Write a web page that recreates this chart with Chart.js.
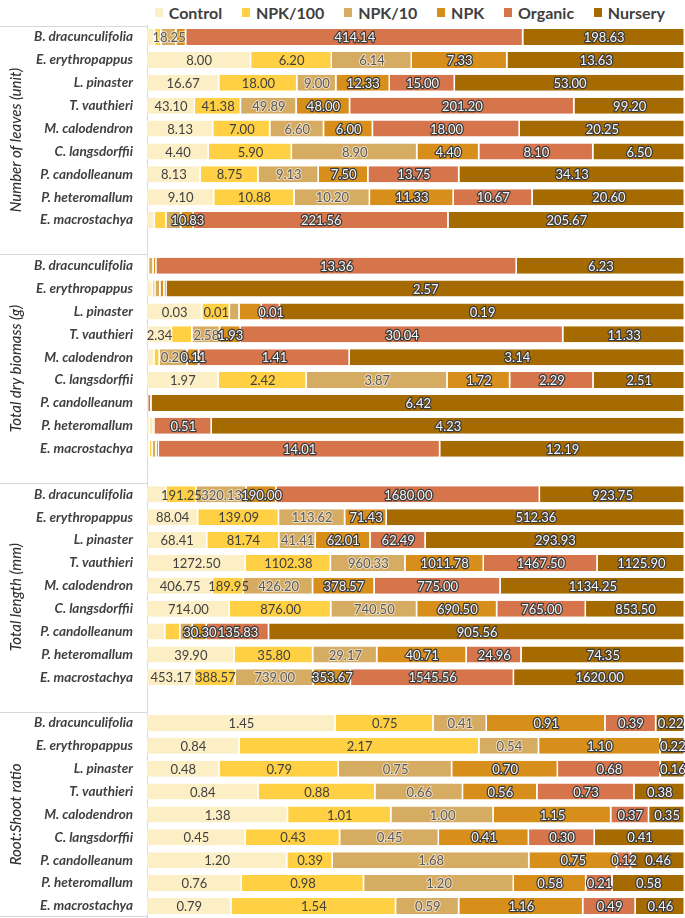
<!DOCTYPE html>
<html>
<head>
<meta charset="utf-8">
<script src="https://cdn.jsdelivr.net/npm/chart.js@4/dist/chart.umd.min.js"></script>
<style>
  body { margin: 0; background: #fff; overflow: hidden; }
  #legend { position: absolute; left: 0; top: 0; width: 685px; height: 25px; display: flex; align-items: center;
            padding-left: 155px; box-sizing: border-box; font: bold 16px Lato, "Open Sans", sans-serif; color: #404040; }
  #legend span.box { display: inline-block; width: 9px; height: 9px; margin-right: 6px; }
  #legend span.txt { margin-right: 20px; }
  #wrap { position: absolute; left: 0; top: 25px; width: 685px; height: 893px; }
</style>
</head>
<body>
<div id="legend"></div>
<div id="wrap"><canvas id="RootChart"></canvas></div>
<script>
// species (same order in every panel)
var species = ['B. dracunculifolia', 'E. erythropappus', 'L. pinaster', 'T. vauthieri', 'M. calodendron',
  'C. langsdorffii', 'P. candolleanum', 'P. heteromallum', 'E. macrostachya'];
var seriesNames = ['Control', 'NPK/100', 'NPK/10', 'NPK', 'Organic', 'Nursery'];
var seriesColors = ['#FCEFC6', '#FFD043', '#D6AC62', '#D78E1B', '#D6744B', '#A56A00'];
var groupTitles = ['Number of leaves (unit)', 'Total dry biomass (g)', 'Total length (mm)', 'Root:Shoot ratio'];

// rows = species, columns = Control, NPK/100, NPK/10, NPK, Organic, Nursery
var leaves = [
  [10, 8, 18.25, 12, 414.14, 198.63],
  [8.00, 6.20, 6.14, 7.33, null, 13.63],
  [16.67, 18.00, 9.00, 12.33, 15.00, 53.00],
  [43.10, 41.38, 49.89, 48.00, 201.20, 99.20],
  [8.13, 7.00, 6.60, 6.00, 18.00, 20.25],
  [4.40, 5.90, 8.90, 4.40, 8.10, 6.50],
  [8.13, 8.75, 9.13, 7.50, 13.75, 34.13],
  [9.10, 10.88, 10.20, 11.33, 10.67, 20.60],
  [7, 10, 13, 10.83, 221.56, 205.67]
];
var biomass = [
  [0.06, 0.02, 0.17, 0.10, 13.36, 6.23],
  [0.03, 0.012, 0.025, 0.02, 0.01, 2.57],
  [0.026, 0.013, 0.0045, 0.0105, 0.0085, 0.19],
  [2.34, 1.90, 2.58, 1.93, 30.04, 11.33],
  [0.07, 0.05, 0.26, 0.11, 1.41, 3.14],
  [1.97, 2.42, 3.87, 1.72, 2.29, 2.51],
  [0.015, null, null, null, 0.04, 6.42],
  [0.03, 0.02, 0.01, 0.01, 0.51, 4.23],
  [0.15, 0.13, 0.20, 0.12, 14.01, 12.19]
];
var totalLength = [
  [124, 191.25, 320.13, 190.00, 1680.00, 923.75],
  [88.04, 139.09, 113.62, 71.43, null, 512.36],
  [68.41, 81.74, 41.41, 62.01, 62.49, 293.93],
  [1272.50, 1102.38, 960.33, 1011.78, 1467.50, 1125.90],
  [406.75, 189.95, 426.20, 378.57, 775.00, 1134.25],
  [714.00, 876.00, 740.50, 690.50, 765.00, 853.50],
  [40, 33, 27, 30.30, 135.83, 905.56],
  [39.90, 35.80, 29.17, 40.71, 24.96, 74.35],
  [453.17, 388.57, 739.00, 353.67, 1545.56, 1620.00]
];
var rootShoot = [
  [1.45, 0.75, 0.41, 0.91, 0.39, 0.22],
  [0.84, 2.17, 0.54, 1.10, null, 0.22],
  [0.48, 0.79, 0.75, 0.70, 0.68, 0.16],
  [0.84, 0.88, 0.66, 0.56, 0.73, 0.38],
  [1.38, 1.01, 1.00, 1.15, 0.37, 0.35],
  [0.45, 0.43, 0.45, 0.41, 0.30, 0.41],
  [1.20, 0.39, 1.68, 0.75, 0.12, 0.46],
  [0.76, 0.98, 1.20, 0.58, 0.21, 0.58],
  [0.79, 1.54, 0.59, 1.16, 0.49, 0.46]
];
// labels not shown in the original ("row-series")
var leavesHidden = ['0-0', '0-1', '0-3', '8-0', '8-1', '8-2'];
var biomassHidden = ['0-0', '0-1', '0-2', '0-3', '1-0', '1-1', '1-2', '1-3', '1-4', '2-2', '2-3', '3-1',
  '4-0', '4-1', '6-0', '6-4', '7-0', '7-1', '7-2', '7-3', '8-0', '8-1', '8-2', '8-3'];
var lengthHidden = ['0-0', '6-0', '6-1', '6-2'];
var rootHidden = [];

var panels = [leaves, biomass, totalLength, rootShoot];
var hiddenLists = [leavesHidden, biomassHidden, lengthHidden, rootHidden];

// one category axis, blank row between the groups
var labels = [];
panels.forEach(function (p, g) {
  if (g > 0) labels.push('');
  labels.push.apply(labels, species);
});

var datasets = seriesNames.map(function (name, s) {
  var data = [], raw = [], hide = [];
  panels.forEach(function (p, g) {
    if (g > 0) { data.push(null); raw.push(null); hide.push(true); }
    p.forEach(function (row, r) {
      var tot = row.reduce(function (a, b) { return a + (b || 0); }, 0);
      var v = row[s];
      data.push(v == null ? null : v / tot * 100);
      raw.push(v);
      hide.push(hiddenLists[g].indexOf(r + '-' + s) >= 0);
    });
  });
  return {
    label: name,
    data: data,
    raw: raw,
    hide: hide,
    backgroundColor: seriesColors[s],
    borderColor: '#ffffff',
    borderWidth: {left: 0, right: 1.5, top: 0, bottom: 0},
    borderSkipped: false,
    barPercentage: 0.7,
    categoryPercentage: 1
  };
});

var barLabels = {
  id: 'barLabels',
  afterDatasetsDraw: function (chart) {
    var ctx = chart.ctx;
    ctx.save();
    ctx.font = '13px Lato, "Open Sans", sans-serif';
    ctx.textAlign = 'center';
    ctx.textBaseline = 'middle';
    ctx.lineJoin = 'round';
    chart.data.datasets.forEach(function (ds, i) {
      chart.getDatasetMeta(i).data.forEach(function (bar, j) {
        var v = ds.raw[j];
        if (v == null || ds.hide[j]) return;
        var t = v.toFixed(2), x = (bar.x + bar.base) / 2, y = bar.y + 1;
        if (i >= 3) {
          ctx.lineWidth = 2.5; ctx.strokeStyle = '#3b3b3b'; ctx.strokeText(t, x, y);
          ctx.fillStyle = '#f5f5f5';
        } else if (i == 2) {
          ctx.lineWidth = 2; ctx.strokeStyle = 'rgba(255,255,255,0.6)'; ctx.strokeText(t, x, y);
          ctx.fillStyle = '#595959';
        } else {
          ctx.fillStyle = '#404040';
        }
        ctx.fillText(t, x, y);
      });
    });
    ctx.restore();
  }
};

var groupBoxes = {
  id: 'groupBoxes',
  afterDraw: function (chart) {
    var ctx = chart.ctx, ys = chart.scales.y, left = chart.chartArea.left;
    var half = (ys.getPixelForValue(1) - ys.getPixelForValue(0)) / 2;
    ctx.save();
    ctx.strokeStyle = '#D9D9D9';
    ctx.lineWidth = 1;
    groupTitles.forEach(function (title, g) {
      var top = ys.getPixelForValue(g * 10) - half;
      var bottom = ys.getPixelForValue(Math.min(g * 10 + 9, labels.length - 1)) + half;
      ctx.beginPath();
      ctx.moveTo(0, Math.round(top) + 0.5); ctx.lineTo(left, Math.round(top) + 0.5);
      if (g == groupTitles.length - 1) { ctx.moveTo(0, Math.round(bottom) - 0.5); ctx.lineTo(left, Math.round(bottom) - 0.5); }
      ctx.stroke();
      ctx.save();
      ctx.translate(16, (top + bottom) / 2);
      ctx.rotate(-Math.PI / 2);
      ctx.font = 'italic 500 15px Lato, "Open Sans", sans-serif';
      ctx.fillStyle = '#303030';
      ctx.textAlign = 'center';
      ctx.textBaseline = 'middle';
      ctx.fillText(title, 0, 0);
      ctx.restore();
    });
    ctx.restore();
  }
};

var ctx = document.getElementById('RootChart').getContext('2d');
var myChart = new Chart(ctx, {
  type: 'bar',
  data: { labels: labels, datasets: datasets },
  options: {
    indexAxis: 'y',
    responsive: true,
    maintainAspectRatio: false,
    animation: false,
    layout: { padding: 0 },
    plugins: { legend: { display: false }, tooltip: { enabled: false } },
    scales: {
      x: { stacked: true, min: 0, max: 100, display: false },
      y: {
        stacked: true,
        // tick marks are hidden, their length only moves the labels off the axis line
        grid: { display: false, drawTicks: true, tickLength: 14 },
        border: { display: true, color: '#D9D9D9' },
        ticks: {
          autoSkip: false,
          padding: 0,
          color: '#404040',
          font: { family: 'Lato, "Open Sans", sans-serif', size: 13.5, style: 'italic', weight: 'bold', lineHeight: 0.1 }
        },
        afterFit: function (scale) { scale.width = 147; }
      }
    }
  },
  plugins: [barLabels, groupBoxes]
});

// legend
var legend = document.getElementById('legend');
myChart.data.datasets.forEach(function (ds) {
  var b = document.createElement('span');
  b.className = 'box';
  b.style.background = ds.backgroundColor;
  var t = document.createElement('span');
  t.className = 'txt';
  t.textContent = ds.label;
  legend.appendChild(b);
  legend.appendChild(t);
});
</script>
</body>
</html>
